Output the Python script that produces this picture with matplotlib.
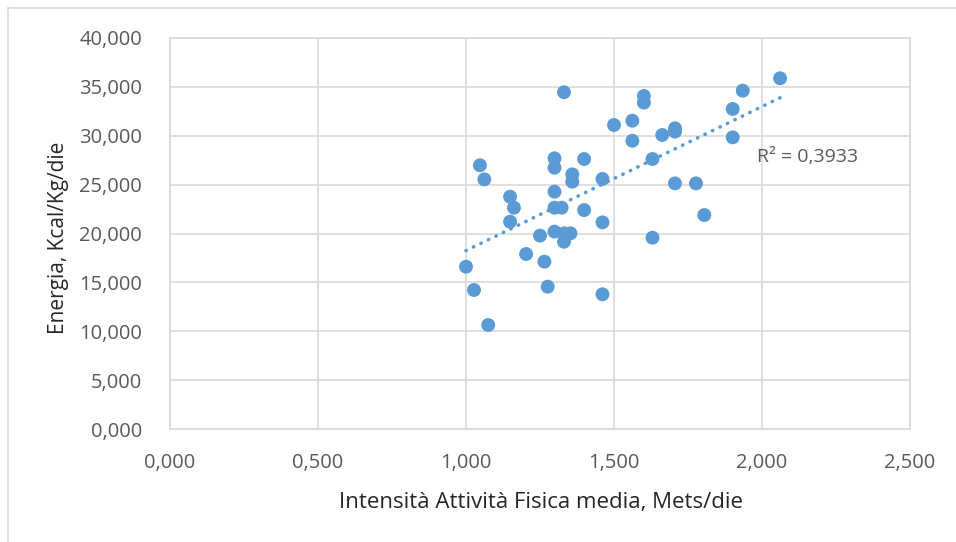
import matplotlib
matplotlib.use("Agg")
import matplotlib.pyplot as plt
import numpy as np
from matplotlib.lines import Line2D
from matplotlib.ticker import FuncFormatter, MultipleLocator

# Intensità attività fisica (Mets/die) vs energia (Kcal/Kg/die)
mets = [1.331, 1.500, 1.562, 1.562, 1.601, 1.601, 1.047, 1.062, 1.149, 1.162,
        1.149, 1.299, 1.299, 1.399, 1.359, 1.359, 1.461, 1.299, 1.299, 1.323,
        1.399, 1.461, 1.250, 1.299, 1.331, 1.332, 1.353, 1.203, 1.265, 1.000,
        1.027, 1.276, 1.461, 1.075, 2.061, 1.935, 1.901, 1.901, 1.663, 1.706,
        1.706, 1.630, 1.706, 1.777, 1.805, 1.630]
energia = [34.45, 31.10, 31.54, 29.49, 34.07, 33.39, 26.98, 25.54, 23.77, 22.64,
           21.21, 27.69, 26.73, 27.62, 26.05, 25.30, 25.58, 24.28, 22.64, 22.64,
           22.40, 21.14, 19.78, 20.19, 19.16, 20.02, 20.02, 17.90, 17.12, 16.60,
           14.22, 14.56, 13.78, 10.64, 35.88, 34.61, 32.74, 29.84, 30.08, 30.76,
           30.42, 27.62, 25.13, 25.13, 21.89, 19.57]
r2_label = "R² = 0,3933"

BLUE = "#5B9BD5"
GRID = "#D9D9D9"
TXT = "#595959"

plt.rcParams["font.family"] = ["Open Sans", "DejaVu Sans"]

fig = plt.figure(figsize=(9.56, 5.42), dpi=100)
ax = fig.add_axes([170 / 956, 1 - 429 / 542, 740 / 956, 391 / 542])

x = np.array(mets)
y = np.array(energia)
ax.scatter(x, y, s=100, color=BLUE, edgecolors="none", zorder=3)

# linear trend line over the data range
k, b = np.polyfit(x, y, 1)
xt = np.array([x.min(), x.max()])
ax.plot(xt, k * xt + b, color=BLUE, lw=2.6, linestyle=(0, (0.1, 2.2)),
        dash_capstyle="round", zorder=2)
ax.text(1.983, 27.83, r2_label, color=TXT, fontsize=14, va="center", ha="left")

ax.set_xlim(0, 2.5)
ax.set_ylim(0, 40)
ax.xaxis.set_major_locator(MultipleLocator(0.5))
ax.yaxis.set_major_locator(MultipleLocator(5))
fmt = FuncFormatter(lambda v, p: f"{v:.3f}".replace(".", ","))
ax.xaxis.set_major_formatter(fmt)
ax.yaxis.set_major_formatter(fmt)
ax.grid(True, color=GRID, lw=1.2)
ax.set_axisbelow(True)
for s in ax.spines.values():
    s.set_color(GRID)
    s.set_linewidth(1.2)
ax.tick_params(length=0, labelsize=14.5, labelcolor=TXT)
ax.tick_params(axis="x", pad=17)
ax.tick_params(axis="y", pad=20)

ax.set_xlabel("Intensità Attività Fisica media, Mets/die", fontsize=16, color="#262626")
ax.xaxis.set_label_coords(0.501, -0.187)
ax.xaxis.label.set_va("center")
ax.set_ylabel("Energia, Kcal/Kg/die", fontsize=15, color="#262626")
ax.yaxis.set_label_coords(-0.151, 0.49)
ax.yaxis.label.set_va("center")

# chart frame (only top and left edges visible in the crop)
fig.add_artist(Line2D([8 / 956, 8 / 956], [0, 1 - 8 / 542], color=GRID, lw=1.2))
fig.add_artist(Line2D([8 / 956, 1], [1 - 8 / 542, 1 - 8 / 542], color=GRID, lw=1.2))

fig.savefig("out.png", dpi=100)
